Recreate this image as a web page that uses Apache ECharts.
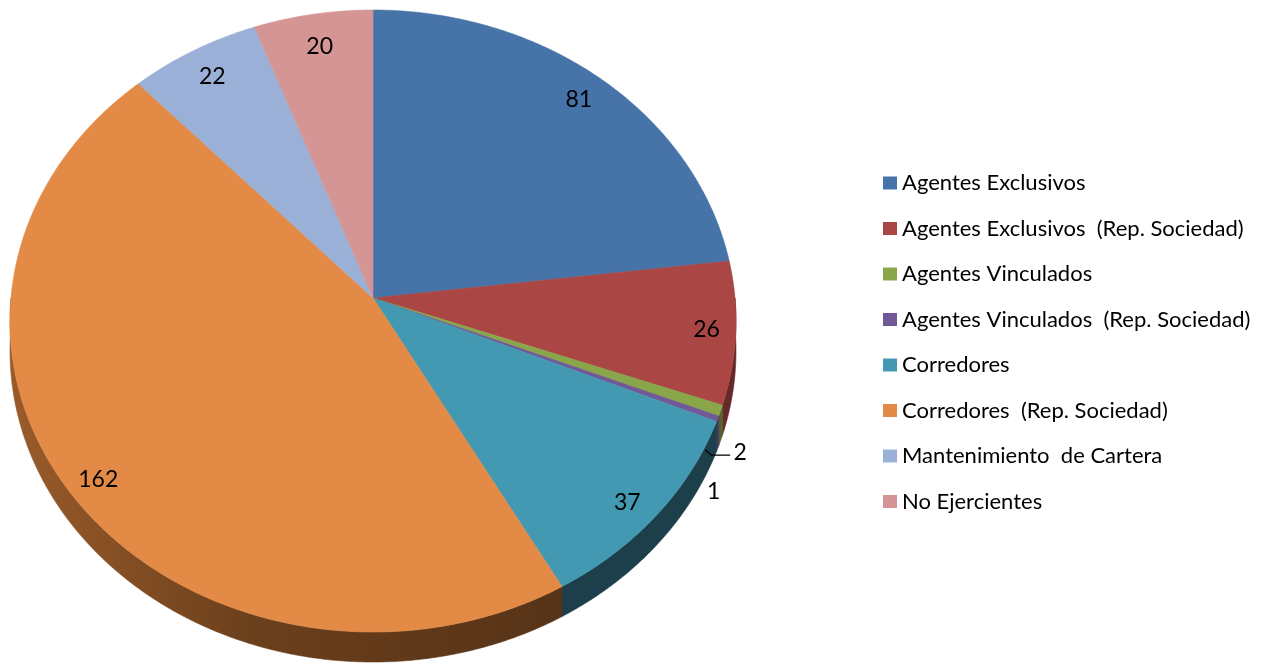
<!DOCTYPE html>
<html lang="es">
<head>
<meta charset="UTF-8">
<title>Distribución por tipo</title>
<style>
    html, body { margin: 0; padding: 0; background: #fff; }
    #chart { width: 1269px; height: 668px; }
</style>
</head>
<body>
<div id="chart"></div>
<script src="https://cdn.jsdelivr.net/npm/echarts@6/dist/echarts.min.js"></script>
<script>
var categories = ['Agentes Exclusivos', 'Agentes Exclusivos  (Rep. Sociedad)', 'Agentes Vinculados',
    'Agentes Vinculados  (Rep. Sociedad)', 'Corredores', 'Corredores  (Rep. Sociedad)',
    'Mantenimiento  de Cartera', 'No Ejercientes'];
var values = [81, 26, 2, 1, 37, 162, 22, 20];
var colors = ['#4774a8', '#aa4644', '#8aa64b', '#715997', '#4399b1', '#e38b46', '#9bb0d6', '#d59594'];
var sideColors = ['#2b4567', '#66292a', '#53632c', '#43355a', '#1d3f4b', '#5a3518', '#5d6a80', '#805958'];

// label layout (Excel moved the two tiny slices outside)
var labelRadius = [0.9, 0.92, 1.09, 1.08, 0.92, 0.92, 0.89, 0.88];
var labelShift = [0, 0, 5.4, 11.3, 1.5, -1.6, 0, 0];
var leader = [false, false, true, false, false, false, false, false];

// fake 3d projection of the pie disc
var CX = 373, CY = 298, RX = 362, RY = 309.3, PC = -0.074, DEPTH = 30;

var total = values.reduce(function (s, v) { return s + v; }, 0);
var starts = [];
var acc = 0;
values.forEach(function (v) { starts.push(acc / total * 360); acc += v; });

function project(deg, r) {
    var t = deg * Math.PI / 180;
    var u = r * Math.sin(t), v = -r * Math.cos(t);
    var w = 1 + PC * v;
    return [CX + RX * u / w, CY + RY * v / w];
}

function arc(a0, a1, r) {
    var n = Math.max(2, Math.ceil((a1 - a0) * 2));
    var pts = [];
    for (var k = 0; k <= n; k++) pts.push(project(a0 + (a1 - a0) * k / n, r));
    return pts;
}

function topItem(i) {
    return function (params, api) {
        var a0 = starts[i], a1 = a0 + api.value(0) / total * 360;
        var pts = [project(0, 0)].concat(arc(a0, a1, 1));
        var children = [{
            type: 'polygon', shape: { points: pts },
            style: { fill: colors[i], stroke: colors[i], lineWidth: 0.6 }
        }];
        var am = (a0 + a1) / 2 + labelShift[i];
        var p = project(am, labelRadius[i]);
        children.push({
            type: 'text', z2: 10,
            style: {
                text: String(api.value(0)), x: p[0], y: p[1], fill: '#000',
                fontSize: 23, fontFamily: 'Lato', align: 'center', verticalAlign: 'middle'
            }
        });
        if (leader[i]) {
            var q = project(am + 2, 1.005);
            children.push({
                type: 'polyline', z2: 10,
                shape: { points: [q, [q[0] + 6, p[1] + 3], [p[0] - 10, p[1] + 3]] },
                style: { stroke: '#000', lineWidth: 1.3, fill: null }
            });
        }
        return { type: 'group', children: children };
    };
}

function sideItem(params, api) {
    var i = params.dataIndex;
    var a0 = Math.max(starts[i], 90), a1 = Math.min(starts[i] + api.value(0) / total * 360, 270);
    if (a1 <= a0) return null;
    var top = arc(a0, a1, 1);
    var bottom = top.map(function (p) { return [p[0], p[1] + DEPTH]; }).reverse();
    var fill = sideColors[i];
    if (i === 5) {
        fill = new echarts.graphic.LinearGradient(10, 0, 560, 0, [
            { offset: 0, color: '#9a5b2a' },
            { offset: 0.45, color: '#6a3f1c' },
            { offset: 1, color: '#573317' }
        ], true);
    }
    return {
        type: 'polygon', shape: { points: top.concat(bottom) },
        style: { fill: fill, stroke: fill, lineWidth: 0.6 }
    };
}

var series = [{
    name: 'lado', type: 'custom', coordinateSystem: 'none', z: 1, silent: true,
    data: values, renderItem: sideItem
}];
categories.forEach(function (name, i) {
    series.push({
        name: name, type: 'custom', coordinateSystem: 'none', z: 2, silent: true,
        itemStyle: { color: colors[i] },
        data: [values[i]], renderItem: topItem(i)
    });
});

var chart = echarts.init(document.getElementById('chart'));
chart.setOption({
    animation: false,
    backgroundColor: '#fff',
    legend: {
        orient: 'vertical', left: 878, top: 167,
        itemWidth: 14, itemHeight: 13, itemGap: 23.5, icon: 'rect',
        selectedMode: false, data: categories,
        textStyle: { fontFamily: 'Lato', fontSize: 22, lineHeight: 22, color: '#000' }
    },
    series: series
});
</script>
</body>
</html>
